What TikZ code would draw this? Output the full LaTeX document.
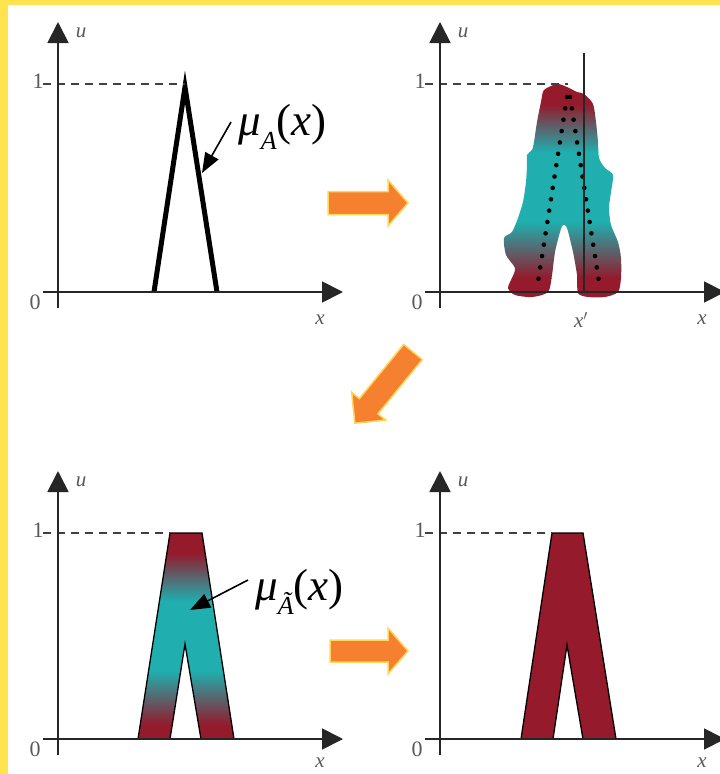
\documentclass[tikz,border=0pt]{standalone}
\usepackage{fontspec}
\setmainfont{Liberation Serif}
\usetikzlibrary{arrows.meta}
\definecolor{fzred}{RGB}{148,26,44}
\definecolor{fzteal}{RGB}{32,174,174}
\definecolor{aorange}{RGB}{245,128,48}
\definecolor{aglow}{RGB}{255,214,90}
\definecolor{frameyellow}{RGB}{255,228,80}
\begin{document}
\begin{tikzpicture}[x=1pt,y=-1pt,
  axis/.style={line width=1.8pt, black!85, -{Triangle[length=21pt,width=21pt]}},
  guide/.style={line width=1.8pt, black!75, dash pattern=on 8pt off 6pt},
  ticklbl/.style={font=\fontsize{22}{24}\selectfont, text=black!65, inner sep=0pt},
  axlbl/.style={font=\fontsize{21}{23}\selectfont\itshape, text=black!65, inner sep=0pt},
  biglbl/.style={font=\fontsize{45}{48}\selectfont, inner sep=0pt, anchor=west},
  pointer/.style={line width=1.6pt, -{Triangle[length=20pt,width=15pt]}},
  fatarrow/.style={fill=aorange, draw=aglow, line width=1.5pt, line join=miter},
  mfshape/.style={draw=black, line width=1.3pt, line join=miter},
  dotline/.style={line width=4.6pt, line cap=round, dash pattern=on 0pt off 11.5pt},
]
\useasboundingbox (0,0) rectangle (720,774);
\fill[white] (0,0) rectangle (720,774);
\fill[frameyellow] (0,0) rectangle (720,5);
\fill[frameyellow] (0,0) rectangle (8,774);

% ---------- panel 1 ----------
\begin{scope}[shift={(58,292)}]
  \draw[line width=5pt, line join=miter, miter limit=20] (96,0) -- (127,-205) -- (159,0);
  \coordinate (p1yb) at (0,16); \coordinate (p1yt) at (0,-270);
  \coordinate (p1xl) at (-15,0); \coordinate (p1xr) at (285,0);
  \coordinate (p1dl) at (-15,-208); \coordinate (p1dr) at (127,-208);
  \draw[guide] (p1dl) -- (p1dr);
  \draw[axis] (p1yb) -- (p1yt);
  \draw[axis] (p1xl) -- (p1xr);
  \node[ticklbl] (p1one) at (-20,-211) {1};
  \node[ticklbl] (p1zero) at (-23,10) {0};
  \node[axlbl] (p1u) at (23,-259) {u};
  \node[axlbl] (p1x) at (262,28) {x};
\end{scope}
\node[biglbl] (muA) at (238,127) {\itshape μ\raisebox{-0.3em}{\fontsize{26}{28}\selectfont\itshape A}\upshape(\itshape x\upshape)};
\coordinate (tipA) at (202,173);
\draw[pointer] ([xshift=-7pt,yshift=5pt]muA.west) -- (tipA);

% ---------- panel 2 ----------
\begin{scope}
  \clip plot[smooth cycle, tension=0.45] coordinates {
    (541,102) (544,90) (557,84) (567,87) (577,92) (584,94) (593,104) (596,122)
    (598,142) (599,158) (605,168) (613,175) (611,192) (609,208) (611,225)
    (618,242) (621,258) (621,278) (618,292) (605,297) (588,297) (578,293)
    (577,275) (573,252) (567,228) (563,225) (560,232) (555,252) (552,275)
    (548,292) (532,297) (515,295) (508,288) (512,278) (515,268) (506,255)
    (504,238) (512,232) (518,218) (523,202) (526,182) (527,165) (527,155)
    (532,150) (534,142) (537,122)};
  \fill[fzred] (495,75) rectangle (630,104);
  \shade[top color=fzred, bottom color=fzteal] (495,104) rectangle (630,152);
  \fill[fzteal] (495,152) rectangle (630,222);
  \shade[top color=fzteal, bottom color=fzred] (495,222) rectangle (630,278);
  \fill[fzred] (495,278) rectangle (630,305);
\end{scope}
\begin{scope}[shift={(440,292)}]
  \coordinate (p2apl) at (127,-195); \coordinate (p2apr) at (130,-195);
  \coordinate (p2bl) at (97,-4); \coordinate (p2br) at (160,-4);
  \draw[dotline] (p2apl) -- (p2bl);
  \draw[dotline] (p2apr) -- (p2br);
  \coordinate (p2vt) at (144,-239); \coordinate (p2vb) at (144,0);
  \draw[line width=1.8pt, black!85] (p2vt) -- (p2vb);
  \coordinate (p2yb) at (0,16); \coordinate (p2yt) at (0,-270);
  \coordinate (p2xl) at (-15,0); \coordinate (p2xr) at (285,0);
  \coordinate (p2dl) at (-15,-208); \coordinate (p2dr) at (128,-208);
  \draw[guide] (p2dl) -- (p2dr);
  \draw[axis] (p2yb) -- (p2yt);
  \draw[axis] (p2xl) -- (p2xr);
  \node[ticklbl] (p2one) at (-20,-211) {1};
  \node[ticklbl] (p2zero) at (-23,10) {0};
  \node[axlbl] (p2u) at (23,-259) {u};
  \node[axlbl] (p2x) at (262,28) {x};
  \node[axlbl] (p2xp) at (141,28) {x$'$};
\end{scope}

% ---------- panel 3 ----------
\begin{scope}[shift={(58,739)}]
  \begin{scope}
    \clip (80,0) -- (112,-206) -- (144,-206) -- (176,0) -- (143,0) -- (127,-95) -- (112,0) -- cycle;
    \fill[fzred] (70,-215) rectangle (190,-186);
    \shade[top color=fzred, bottom color=fzteal] (70,-186) rectangle (190,-138);
    \fill[fzteal] (70,-138) rectangle (190,-68);
    \shade[top color=fzteal, bottom color=fzred] (70,-68) rectangle (190,-14);
    \fill[fzred] (70,-14) rectangle (190,5);
  \end{scope}
  \draw[mfshape] (80,0) -- (112,-206) -- (144,-206) -- (176,0) -- (143,0) -- (127,-95) -- (112,0) -- cycle;
  \coordinate (p3yb) at (0,16); \coordinate (p3yt) at (0,-268);
  \coordinate (p3xl) at (-15,0); \coordinate (p3xr) at (285,0);
  \coordinate (p3dl) at (-15,-206); \coordinate (p3dr) at (112,-206);
  \draw[guide] (p3dl) -- (p3dr);
  \draw[axis] (p3yb) -- (p3yt);
  \draw[axis] (p3xl) -- (p3xr);
  \node[ticklbl] (p3one) at (-20,-209) {1};
  \node[ticklbl] (p3zero) at (-23,10) {0};
  \node[axlbl] (p3u) at (23,-257) {u};
  \node[axlbl] (p3x) at (262,24) {x};
\end{scope}
\node[biglbl] (muAt) at (255,592) {\itshape μ\raisebox{-0.3em}{\fontsize{26}{28}\selectfont\itshape Ã}\upshape(\itshape x\upshape)};
\coordinate (tipAt) at (190,610);
\draw[pointer] ([xshift=-7pt,yshift=12pt]muAt.west) -- (tipAt);

% ---------- panel 4 ----------
\begin{scope}[shift={(440,739)}]
  \draw[mfshape, fill=fzred] (81,0) -- (112,-206) -- (143,-206) -- (176,0) -- (143,0) -- (127,-94) -- (113,0) -- cycle;
  \coordinate (p4yb) at (0,16); \coordinate (p4yt) at (0,-268);
  \coordinate (p4xl) at (-15,0); \coordinate (p4xr) at (285,0);
  \coordinate (p4dl) at (-15,-206); \coordinate (p4dr) at (112,-206);
  \draw[guide] (p4dl) -- (p4dr);
  \draw[axis] (p4yb) -- (p4yt);
  \draw[axis] (p4xl) -- (p4xr);
  \node[ticklbl] (p4one) at (-20,-209) {1};
  \node[ticklbl] (p4zero) at (-23,10) {0};
  \node[axlbl] (p4u) at (23,-257) {u};
  \node[axlbl] (p4x) at (262,24) {x};
\end{scope}

% ---------- orange arrows ----------
\draw[fatarrow] (328,191.5) -- (388,191.5) -- (388,180) -- (408,203) -- (388,226) -- (388,214.5) -- (328,214.5) -- cycle;
\draw[fatarrow] (403.7,344.4) -- (359.4,398.6) -- (351.7,392.3) -- (354.8,423.2) -- (385.7,420.1) -- (378.0,413.8) -- (422.3,359.6) -- cycle;
\draw[fatarrow] (330,640) -- (388,640) -- (388,628) -- (408,651) -- (388,674) -- (388,662) -- (330,662) -- cycle;
\end{tikzpicture}
\end{document}
